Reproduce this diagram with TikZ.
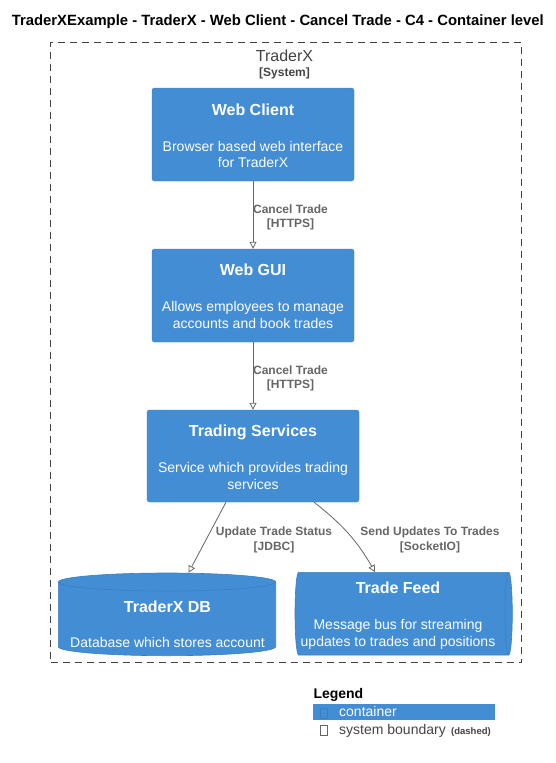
\documentclass[tikz,border=0pt]{standalone}
\usepackage{fontspec}
\setmainfont{Liberation Sans}
\usetikzlibrary{arrows.meta}
\definecolor{c4blue}{HTML}{438DD5}
\definecolor{c4border}{HTML}{3C7FC0}
\definecolor{relgray}{HTML}{666666}
\definecolor{bndgray}{HTML}{444444}
\begin{document}
\begin{tikzpicture}[x=1pt, y=-1pt]
  \fill [white] (0, 0) rectangle (555, 763);  % page size of the reference
  \tikzstyle{container}=[rectangle, rounded corners=2.5pt, draw=c4border, fill=c4blue, minimum width=202pt, minimum height=93pt, inner sep=0pt]
  \tikzstyle{frame}=[rectangle, inner sep=0pt]
  \tikzstyle{cshape}=[draw=c4border, fill=c4blue, line width=0.6pt]
  \tikzstyle{ctitle}=[anchor=base, inner sep=0pt, text=white, font=\bfseries\fontsize{16}{19}\selectfont]
  \tikzstyle{cdesc}=[anchor=base, inner sep=0pt, text=white, align=center, font=\fontsize{14}{16.8}\selectfont]
  \tikzstyle{rel}=[draw=relgray, line width=0.8pt, -{Triangle[open, length=7pt, width=7pt]}]
  \tikzstyle{rellabel}=[anchor=base, inner sep=0pt, text=relgray, align=center, font=\bfseries\fontsize{12}{14.5}\selectfont]
  \tikzstyle{boundary}=[rectangle, draw=bndgray, line width=0.8pt, dash pattern=on 7pt off 5pt, inner sep=0pt]
  \tikzstyle{legendtext}=[anchor=base west, inner sep=0pt, font=\fontsize{14}{17}\selectfont]

  \node[anchor=base, inner sep=0pt, font=\bfseries\fontsize{14.85}{17}\selectfont] (title) at (277.8, 25) {TraderXExample - TraderX - Web Client - Cancel Trade - C4 - Container level};

  \node[boundary, minimum width=471pt, minimum height=620.4pt] (traderx) at (286.2, 352.5) {};
  \node[anchor=base, inner sep=0pt, text=bndgray, font=\fontsize{16}{19}\selectfont] (traderx-name) at (284.5, 61) {TraderX};
  \node[anchor=base, inner sep=0pt, text=bndgray, font=\bfseries\fontsize{12}{14}\selectfont] (traderx-type) at (284.5, 76.7) {[System]};

  \node[container] (webclient) at (253, 134.5) {};
  \node[ctitle] (webclient-title) at (253, 115) {Web Client};
  \node[cdesc] (webclient-desc) at (253, 167.8) {Browser based web interface\\for TraderX};

  \node[container] (webgui) at (253, 295.5) {};
  \node[ctitle] (webgui-title) at (253, 275.7) {Web GUI};
  \node[cdesc] (webgui-desc) at (253, 328.5) {Allows employees to manage\\accounts and book trades};

  \node[container, minimum width=212pt, minimum height=92pt] (trading) at (253, 456) {};
  \node[ctitle] (trading-title) at (253, 436.7) {Trading Services};
  \node[cdesc] (trading-desc) at (253, 489.5) {Service which provides trading\\services};

  % database: cylinder standing upright
  \node[frame, minimum width=217.4pt, minimum height=82.7pt] (db) at (167, 614.3) {};
  \filldraw[cshape] (58.3, 582) arc[start angle=180, end angle=360, x radius=108.7, y radius=9]
    -- (275.7, 646.7) arc[start angle=0, end angle=180, x radius=108.7, y radius=9] -- cycle;
  \draw[c4border, line width=0.6pt] (58.3, 582) arc[start angle=180, end angle=0, x radius=108.7, y radius=9];
  \node[ctitle] (db-title) at (167.5, 612.3) {TraderX DB};
  \node[cdesc] (db-desc) at (167.5, 647.3) {Database which stores account};

  % queue: cylinder lying on its side
  \node[frame, minimum width=217.3pt, minimum height=82.7pt] (feed) at (403.65, 613.65) {};
  \filldraw[cshape] (298.65, 572.3) -- (508.65, 572.3) arc[start angle=270, end angle=450, x radius=3.65, y radius=41.35]
    -- (298.65, 655) arc[start angle=90, end angle=270, x radius=3.65, y radius=41.35] -- cycle;
  \draw[c4border, line width=0.6pt] (508.65, 572.3) arc[start angle=270, end angle=90, x radius=3.65, y radius=41.35];
  \node[ctitle] (feed-title) at (398, 593.3) {Trade Feed};
  \node[cdesc] (feed-desc) at (398, 646) {Message bus for streaming\\updates to trades and positions};

  \path (webclient) edge[rel] (webgui);
  \path (webgui) edge[rel] (trading);
  \path ([xshift=-27pt]trading.south) edge[rel] ([xshift=21.5pt]db.north);
  \path ([xshift=61pt]trading.south) edge[rel, out=-38, in=120] ([xshift=-28.6pt]feed.north);

  \node[rellabel] (rel1-label) at (290.5, 227.5) {Cancel Trade\\{[HTTPS]}};
  \node[rellabel] (rel2-label) at (290.5, 388.5) {Cancel Trade\\{[HTTPS]}};
  \node[rellabel] (rel3-label) at (274, 550) {Update Trade Status\\{[JDBC]}};
  \node[rellabel] (rel4-label) at (430, 550) {Send Updates To Trades\\{[SocketIO]}};

  \node[anchor=base west, inner sep=0pt, font=\bfseries\fontsize{14}{17}\selectfont] (legend) at (313.3, 698.3) {Legend};
  \node[rectangle, fill=c4blue, minimum width=181.7pt, minimum height=15.7pt, inner sep=0pt] (legend-container) at (404.2, 712.2) {};
  \node[rectangle, draw=c4border, line width=0.6pt, minimum width=6.6pt, minimum height=10pt, inner sep=0pt] (legend-box1) at (324, 713) {};
  \node[legendtext, text=white] (legend-container-text) at (339, 716) {container};
  \node[rectangle, draw=relgray, line width=0.6pt, minimum width=6.6pt, minimum height=10pt, inner sep=0pt] (legend-box2) at (324, 730) {};
  \node[legendtext, text=bndgray] (legend-boundary-text) at (339, 734) {system boundary};
  \node[anchor=base west, inner sep=0pt, text=bndgray, font=\bfseries\fontsize{9.5}{11}\selectfont] (legend-dashed) at (451, 734) {(dashed)};
\end{tikzpicture}
\end{document}
